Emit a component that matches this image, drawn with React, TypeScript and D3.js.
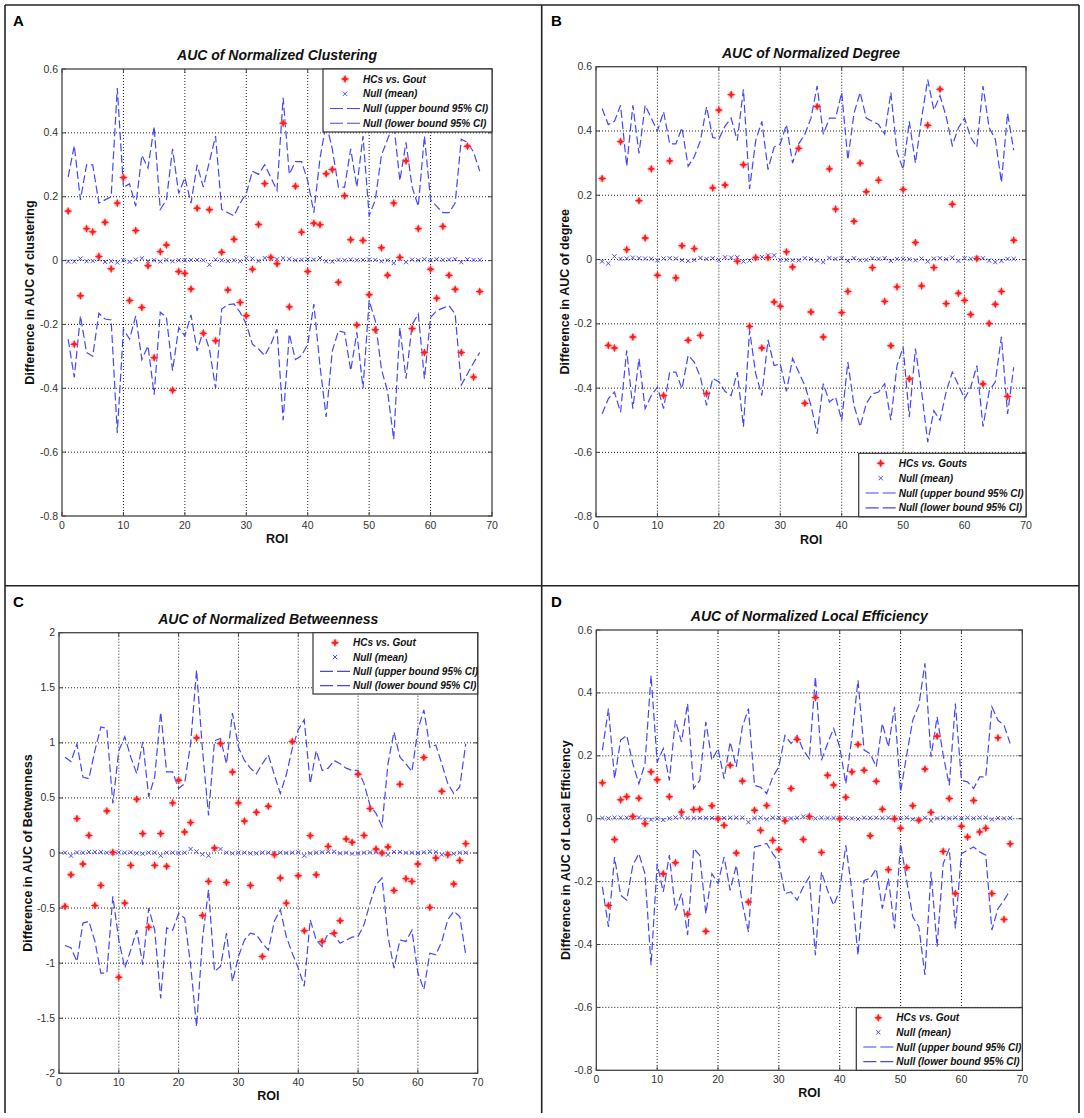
import { useEffect, useRef } from "react";
import * as d3 from "d3";

const W = 1084,
  H = 1118;

const xTicks = [0, 10, 20, 30, 40, 50, 60, 70];
const smallYTicks = [-0.8, -0.6, -0.4, -0.2, 0, 0.2, 0.4, 0.6];
const betwYTicks = [-2, -1.5, -1, -0.5, 0, 0.5, 1, 1.5, 2];

// A: clustering
const clustHC = [0.155, -0.262, -0.11, 0.1, 0.09, 0.013, 0.12, -0.026, 0.18, 0.26, -0.125, 0.094, -0.147, -0.016, -0.304, 0.028, 0.049, -0.406, -0.034, -0.04, -0.089, 0.164, -0.228, 0.159, -0.251, 0.026, -0.092, 0.067, -0.131, -0.173, -0.027, 0.113, 0.241, 0.01, -0.01, 0.43, -0.145, 0.233, 0.089, -0.034, 0.117, 0.112, 0.272, 0.285, -0.068, 0.203, 0.065, -0.202, 0.063, -0.107, -0.217, 0.04, -0.046, 0.18, 0.01, 0.312, -0.213, 0.1, -0.288, -0.027, -0.118, 0.107, -0.046, -0.09, -0.288, 0.358, -0.365, -0.097];
const clustMean = [-0.003, -0.003, 0.006, -0.002, -0.001, 0.004, -0.004, -0.002, -0.006, 0.001, -0.004, 0.003, 0.007, -0.002, 0.001, -0.003, 0.002, -0.002, 0.001, 0.001, 0.002, 0.002, 0.001, -0.013, 0.003, 0.001, -0.001, 0.001, -0.002, 0.007, 0.006, -0.001, 0.008, 0.009, 0.004, 0.007, 0.005, 0.001, 0.002, 0.004, 0.003, 0.008, -0.002, -0.003, 0.002, 0.001, 0.003, 0.001, 0.002, 0.003, 0.002, -0.002, 0.001, -0.008, 0.006, -0.005, 0.003, 0.001, 0.004, 0.001, 0.004, 0.002, 0.003, 0.004, -0.005, 0.004, 0.002, 0.002];
const clustUpper = [0.262, 0.36, 0.19, 0.3, 0.3, 0.18, 0.19, 0.2, 0.54, 0.23, 0.24, 0.17, 0.33, 0.29, 0.42, 0.16, 0.19, 0.35, 0.21, 0.26, 0.18, 0.3, 0.23, 0.31, 0.39, 0.16, 0.15, 0.14, 0.18, 0.21, 0.28, 0.27, 0.3, 0.26, 0.22, 0.51, 0.27, 0.31, 0.31, 0.25, 0.15, 0.32, 0.43, 0.35, 0.23, 0.23, 0.35, 0.23, 0.39, 0.14, 0.19, 0.33, 0.38, 0.43, 0.25, 0.37, 0.23, 0.17, 0.39, 0.19, 0.17, 0.15, 0.15, 0.18, 0.38, 0.37, 0.34, 0.28];
const clustLower = [-0.246, -0.366, -0.173, -0.288, -0.3, -0.165, -0.183, -0.186, -0.54, -0.215, -0.246, -0.173, -0.31, -0.267, -0.42, -0.162, -0.178, -0.345, -0.21, -0.236, -0.17, -0.283, -0.22, -0.277, -0.4, -0.152, -0.138, -0.136, -0.162, -0.199, -0.262, -0.277, -0.298, -0.262, -0.215, -0.5, -0.23, -0.31, -0.298, -0.262, -0.136, -0.33, -0.49, -0.283, -0.22, -0.225, -0.345, -0.225, -0.4, -0.126, -0.188, -0.34, -0.41, -0.56, -0.21, -0.37, -0.2, -0.167, -0.37, -0.178, -0.157, -0.149, -0.141, -0.167, -0.39, -0.355, -0.32, -0.288];

// B: degree
const degHC = [0.252, -0.267, -0.275, 0.367, 0.031, -0.241, 0.183, 0.067, 0.282, -0.049, -0.423, 0.307, -0.057, 0.043, -0.251, 0.034, -0.236, -0.417, 0.223, 0.465, 0.232, 0.513, -0.005, 0.295, -0.208, 0.006, -0.275, 0.006, -0.132, -0.145, 0.024, -0.023, 0.346, -0.447, -0.163, 0.476, -0.241, 0.282, 0.157, -0.165, -0.099, 0.119, 0.3, 0.211, -0.025, 0.247, -0.13, -0.268, -0.085, 0.218, -0.371, 0.053, -0.082, 0.418, -0.025, 0.53, -0.137, 0.172, -0.105, -0.127, -0.171, 0.003, -0.387, -0.199, -0.139, -0.099, -0.426, 0.06];
const degMean = [-0.006, -0.012, 0.01, 0.002, 0.003, 0.006, 0.004, 0.003, 0.002, -0.002, 0.003, 0.004, 0.003, -0.002, -0.004, -0.001, 0.005, 0.002, 0.004, -0.001, 0.007, 0.006, 0.007, -0.006, -0.003, 0.004, 0.008, 0.013, 0.013, -0.001, -0.001, -0.002, -0.002, 0.004, 0.002, -0.003, -0.008, 0.005, 0.002, 0.004, -0.004, 0.004, -0.002, -0.001, 0.004, 0.002, 0.004, -0.004, 0.002, 0.002, 0.001, -0.002, 0.003, -0.006, 0.003, 0.004, 0.001, 0.006, -0.004, 0.004, 0.002, 0.004, 0.004, -0.003, -0.008, -0.004, 0.002, 0.002];
const degUpper = [0.47, 0.42, 0.43, 0.48, 0.29, 0.48, 0.33, 0.48, 0.44, 0.4, 0.46, 0.36, 0.36, 0.41, 0.29, 0.32, 0.37, 0.475, 0.38, 0.375, 0.415, 0.44, 0.37, 0.53, 0.22, 0.37, 0.43, 0.28, 0.35, 0.36, 0.42, 0.3, 0.36, 0.39, 0.44, 0.54, 0.39, 0.44, 0.44, 0.52, 0.31, 0.455, 0.52, 0.44, 0.43, 0.42, 0.39, 0.52, 0.335, 0.28, 0.43, 0.3, 0.44, 0.56, 0.465, 0.51, 0.445, 0.355, 0.41, 0.44, 0.38, 0.35, 0.54, 0.41, 0.375, 0.24, 0.455, 0.34];
const degLower = [-0.48, -0.433, -0.412, -0.475, -0.282, -0.464, -0.308, -0.464, -0.423, -0.397, -0.464, -0.35, -0.35, -0.402, -0.298, -0.319, -0.366, -0.454, -0.37, -0.38, -0.41, -0.423, -0.35, -0.52, -0.22, -0.355, -0.423, -0.25, -0.33, -0.325, -0.41, -0.308, -0.35, -0.392, -0.454, -0.542, -0.386, -0.443, -0.428, -0.5, -0.319, -0.454, -0.52, -0.448, -0.418, -0.412, -0.386, -0.5, -0.33, -0.272, -0.49, -0.277, -0.41, -0.568, -0.47, -0.5, -0.412, -0.35, -0.39, -0.433, -0.397, -0.33, -0.52, -0.41, -0.38, -0.24, -0.48, -0.335];

// C: betweenness
const betwHC = [-0.485, -0.197, 0.312, -0.1, 0.16, -0.476, -0.294, 0.382, 0.006, -1.127, -0.455, -0.112, 0.488, 0.176, -0.673, -0.112, 0.176, -0.121, 0.455, 0.66, 0.19, 0.276, 1.045, -0.567, -0.258, 0.045, 0.994, -0.267, 0.736, 0.455, 0.29, -0.294, 0.37, -0.94, 0.424, -0.015, -0.227, -0.455, 1.012, -0.206, -0.706, 0.158, -0.197, -0.803, 0.06, -0.727, -0.615, 0.127, 0.097, 0.715, 0.16, 0.403, 0.036, 0.0, 0.055, -0.34, 0.624, -0.233, -0.258, -0.1, 0.867, -0.494, -0.045, 0.56, -0.015, -0.282, -0.067, 0.085];
const betwMean = [0.003, -0.024, 0.005, 0.003, 0.009, 0.009, 0.009, 0.003, 0.0, 0.006, 0.003, 0.006, -0.003, -0.006, 0.003, 0.003, -0.024, 0.003, 0.003, 0.0, 0.003, 0.036, 0.012, -0.012, -0.025, 0.036, 0.036, 0.003, -0.003, 0.003, 0.003, -0.003, -0.003, 0.003, 0.003, 0.0, 0.003, 0.0, 0.003, 0.006, -0.024, -0.003, 0.003, 0.006, 0.012, 0.012, -0.003, 0.003, -0.006, -0.003, 0.003, 0.006, 0.006, 0.003, -0.015, 0.009, 0.009, 0.003, 0.003, 0.0, 0.006, 0.012, 0.009, -0.015, -0.006, -0.006, 0.003, 0.003];
const betwUpper = [0.87, 0.83, 0.99, 0.69, 0.675, 0.93, 1.145, 1.13, 0.45, 0.93, 1.055, 0.87, 0.72, 1.01, 0.51, 0.69, 1.28, 0.736, 0.736, 0.585, 0.63, 0.99, 1.66, 0.93, 0.34, 1.02, 1.04, 0.81, 1.27, 0.96, 0.84, 0.77, 0.72, 0.81, 0.89, 0.71, 0.54, 0.71, 0.95, 1.12, 1.21, 0.63, 0.93, 0.75, 0.77, 0.84, 0.81, 0.77, 0.75, 0.75, 0.63, 0.43, 0.36, 0.24, 0.81, 1.1, 0.87, 0.81, 0.74, 1.12, 1.3, 0.96, 0.98, 0.81, 0.63, 0.54, 0.6, 0.99];
const betwLower = [-0.84, -0.86, -0.985, -0.636, -0.62, -0.8, -1.09, -1.09, -0.394, -0.79, -1.045, -0.88, -0.7, -1.015, -0.5, -0.7, -1.32, -0.68, -0.7, -0.55, -0.59, -1.015, -1.576, -0.773, -0.333, -1.076, -1.03, -0.727, -1.167, -0.94, -0.79, -0.727, -0.742, -0.82, -0.88, -0.62, -0.515, -0.758, -0.91, -1.045, -1.21, -0.606, -0.79, -0.85, -0.727, -0.742, -0.82, -0.79, -0.764, -0.758, -0.65, -0.455, -0.288, -0.227, -0.758, -1.045, -0.79, -0.803, -0.7, -1.09, -1.24, -0.91, -0.924, -0.803, -0.606, -0.53, -0.576, -0.924];

// D: local efficiency
const effHC = [0.114, -0.276, -0.066, 0.06, 0.07, 0.007, 0.065, -0.016, 0.149, 0.124, -0.175, 0.07, -0.14, 0.021, -0.304, 0.029, 0.03, -0.358, 0.041, 0.0, -0.021, 0.17, -0.109, 0.12, -0.265, 0.027, -0.037, 0.042, -0.069, -0.098, -0.007, 0.096, 0.252, -0.066, 0.007, 0.385, -0.107, 0.138, 0.107, 0.0, 0.068, 0.149, 0.236, 0.154, -0.054, 0.119, 0.03, -0.162, 0.0, -0.03, -0.155, 0.041, -0.005, 0.158, 0.02, 0.262, -0.104, 0.064, -0.238, -0.024, -0.058, 0.058, -0.042, -0.03, -0.238, 0.257, -0.32, -0.08];
const effMean = [0.002, 0.001, 0.003, 0.003, 0.003, 0.003, 0.004, -0.002, -0.003, 0.0, -0.004, 0.001, 0.004, 0.008, 0.002, 0.002, 0.002, 0.002, 0.002, 0.001, 0.002, 0.003, 0.003, 0.003, -0.011, 0.002, 0.003, -0.002, 0.003, 0.003, 0.001, 0.001, 0.003, 0.007, 0.003, 0.001, 0.003, 0.002, 0.002, 0.001, 0.003, 0.001, -0.001, 0.003, 0.002, 0.003, 0.002, 0.003, 0.003, 0.001, 0.003, -0.002, -0.003, 0.003, -0.006, 0.001, 0.003, 0.001, 0.003, 0.001, 0.003, 0.001, 0.003, 0.003, -0.002, 0.002, 0.001, 0.002];
const effUpper = [0.218, 0.35, 0.127, 0.25, 0.265, 0.175, 0.111, 0.175, 0.456, 0.18, 0.223, 0.122, 0.313, 0.244, 0.366, 0.096, 0.122, 0.308, 0.186, 0.223, 0.127, 0.244, 0.165, 0.292, 0.35, 0.106, 0.1, 0.08, 0.133, 0.165, 0.265, 0.239, 0.265, 0.218, 0.191, 0.451, 0.186, 0.239, 0.287, 0.228, 0.111, 0.26, 0.44, 0.218, 0.207, 0.165, 0.303, 0.228, 0.356, 0.085, 0.202, 0.313, 0.361, 0.494, 0.196, 0.324, 0.202, 0.106, 0.366, 0.122, 0.117, 0.096, 0.133, 0.133, 0.356, 0.313, 0.297, 0.239];
const effLower = [-0.217, -0.344, -0.122, -0.243, -0.259, -0.148, -0.111, -0.175, -0.466, -0.143, -0.233, -0.116, -0.291, -0.238, -0.37, -0.095, -0.116, -0.302, -0.175, -0.206, -0.122, -0.228, -0.148, -0.27, -0.36, -0.09, -0.085, -0.079, -0.111, -0.138, -0.238, -0.233, -0.259, -0.217, -0.185, -0.434, -0.169, -0.228, -0.275, -0.228, -0.085, -0.228, -0.434, -0.196, -0.19, -0.159, -0.286, -0.19, -0.349, -0.079, -0.196, -0.312, -0.344, -0.497, -0.169, -0.407, -0.143, -0.095, -0.349, -0.111, -0.1, -0.09, -0.106, -0.116, -0.354, -0.286, -0.259, -0.228];

const FONT = "'Liberation Sans', Arial, sans-serif";
const BLUE = "#4545ff";
const RED = "#ff1c1c";

const panels = [
  {
    letter: "A", lx: 13, ly: 26,
    title: "AUC of Normalized Clustering",
    ylabel: "Difference in AUC of clustering",
    left: 62, right: 492, top: 69, bottom: 516, ylx: 33.5,
    yDomain: [-0.8, 0.6], yTicks: smallYTicks,
    hcLabel: "HCs vs. Gout", legX: 323, legY: 69, legH: 63,
    hc: clustHC, mean: clustMean, upper: clustUpper, lower: clustLower,
  },
  {
    letter: "B", lx: 551, ly: 26,
    title: "AUC of Normalized Degree",
    ylabel: "Difference in AUC of degree",
    left: 596, right: 1026, top: 66.7, bottom: 516.7, ylx: 568.5,
    yDomain: [-0.8, 0.6], yTicks: smallYTicks,
    hcLabel: "HCs vs. Gouts", legX: 858.7, legY: 453.3, legH: 63.4,
    hc: degHC, mean: degMean, upper: degUpper, lower: degLower,
  },
  {
    letter: "C", lx: 13, ly: 607,
    title: "AUC of Normalized Betweenness",
    ylabel: "Difference in AUC of Betwenness",
    left: 59, right: 477.7, top: 632.7, bottom: 1073.3, ylx: 31.5,
    yDomain: [-2, 2], yTicks: betwYTicks,
    hcLabel: "HCs vs. Gout", legX: 313, legY: 632.7, legH: 61.3,
    hc: betwHC, mean: betwMean, upper: betwUpper, lower: betwLower,
  },
  {
    letter: "D", lx: 551, ly: 607,
    title: "AUC of Normalized Local Efficiency",
    ylabel: "Difference in AUC of Local Efficiency",
    left: 596.3, right: 1022.3, top: 630, bottom: 1070.3, ylx: 569.5,
    yDomain: [-0.8, 0.6], yTicks: smallYTicks,
    hcLabel: "HCs vs. Gout", legX: 856.3, legY: 1007.7, legH: 62.6,
    hc: effHC, mean: effMean, upper: effUpper, lower: effLower,
  },
];

const starPath = (r: number) => {
  const k = r * 0.28;
  return `M0,${-r}L${k},${-k}L${r},0L${k},${k}L0,${r}L${-k},${k}L${-r},0L${-k},${-k}Z`;
};

function drawStar(g: any, cx: number, cy: number) {
  g.append("circle").attr("cx", cx).attr("cy", cy).attr("r", 3.6)
    .attr("fill", "#ff8c8c").attr("opacity", 0.45);
  g.append("path").attr("d", starPath(4.3))
    .attr("transform", `translate(${cx},${cy})`).attr("fill", RED);
}

function drawCross(g: any, cx: number, cy: number) {
  const s = 2.1;
  g.append("path")
    .attr("d", `M${cx - s},${cy - s}L${cx + s},${cy + s}M${cx - s},${cy + s}L${cx + s},${cy - s}`)
    .attr("stroke", BLUE).attr("stroke-width", 1).attr("fill", "none");
}

function drawPanel(svg: any, p: any) {
  const g = svg.append("g");
  const x = d3.scaleLinear().domain([0, 70]).range([p.left, p.right]);
  const y = d3.scaleLinear().domain(p.yDomain).range([p.bottom, p.top]);

  // grid
  g.selectAll("gx").data(xTicks.slice(1, -1)).enter().append("line")
    .attr("x1", (d: number) => x(d)).attr("x2", (d: number) => x(d))
    .attr("y1", p.top).attr("y2", p.bottom)
    .attr("stroke", "#222").attr("stroke-width", 1).attr("stroke-dasharray", "1,2");
  g.selectAll("gy").data(p.yTicks.slice(1, -1)).enter().append("line")
    .attr("x1", p.left).attr("x2", p.right)
    .attr("y1", (d: number) => y(d)).attr("y2", (d: number) => y(d))
    .attr("stroke", "#222").attr("stroke-width", 1).attr("stroke-dasharray", "1,2");

  // null bounds
  const line = d3.line<number>().x((d, i) => x(i + 1)).y((d) => y(d));
  [p.upper, p.lower].forEach((arr: number[]) => {
    g.append("path").attr("d", line(arr)).attr("fill", "none")
      .attr("stroke", BLUE).attr("stroke-width", 1.2).attr("stroke-dasharray", "8,3.5");
  });

  // null mean
  p.mean.forEach((d: number, i: number) => drawCross(g, x(i + 1), y(d)));

  // HCs vs gout
  p.hc.forEach((d: number, i: number) => drawStar(g, x(i + 1), y(d)));

  // box + ticks
  g.append("rect").attr("x", p.left).attr("y", p.top)
    .attr("width", p.right - p.left).attr("height", p.bottom - p.top)
    .attr("fill", "none").attr("stroke", "#444").attr("stroke-width", 1.3);
  xTicks.forEach((t) => {
    g.append("line").attr("x1", x(t)).attr("x2", x(t)).attr("y1", p.bottom).attr("y2", p.bottom - 4)
      .attr("stroke", "#444");
    g.append("line").attr("x1", x(t)).attr("x2", x(t)).attr("y1", p.top).attr("y2", p.top + 4)
      .attr("stroke", "#444");
  });
  p.yTicks.forEach((t: number) => {
    g.append("line").attr("x1", p.left).attr("x2", p.left + 4).attr("y1", y(t)).attr("y2", y(t))
      .attr("stroke", "#444");
    g.append("line").attr("x1", p.right).attr("x2", p.right - 4).attr("y1", y(t)).attr("y2", y(t))
      .attr("stroke", "#444");
  });

  // tick labels
  g.selectAll("xl").data(xTicks).enter().append("text")
    .attr("x", (d: number) => x(d)).attr("y", p.bottom + 12.5)
    .attr("text-anchor", "middle").attr("font-size", 10.5).attr("font-family", FONT)
    .attr("fill", "#333").text((d: number) => d);
  g.selectAll("yl").data(p.yTicks).enter().append("text")
    .attr("x", p.left - 4).attr("y", (d: number) => y(d) + 3.5)
    .attr("text-anchor", "end").attr("font-size", 10.5).attr("font-family", FONT)
    .attr("fill", "#333").text((d: number) => String(d));

  // titles and labels
  const cx = (p.left + p.right) / 2;
  g.append("text").attr("x", cx).attr("y", p.top - 9)
    .attr("text-anchor", "middle").attr("font-size", 14).attr("font-weight", "bold")
    .attr("font-style", "italic").attr("font-family", FONT).attr("fill", "#111").text(p.title);
  g.append("text").attr("x", cx).attr("y", p.bottom + 27)
    .attr("text-anchor", "middle").attr("font-size", 12.5).attr("font-weight", "bold")
    .attr("font-family", FONT).attr("fill", "#111").text("ROI");
  g.append("text")
    .attr("transform", `translate(${p.ylx},${(p.top + p.bottom) / 2}) rotate(-90)`)
    .attr("text-anchor", "middle").attr("font-size", 12.5).attr("font-weight", "bold")
    .attr("font-family", FONT).attr("fill", "#111").text(p.ylabel);
  g.append("text").attr("x", p.lx).attr("y", p.ly)
    .attr("font-size", 15).attr("font-weight", "bold").attr("font-family", FONT)
    .attr("fill", "#000").text(p.letter);

  // legend
  const lg = g.append("g");
  lg.append("rect").attr("x", p.legX).attr("y", p.legY)
    .attr("width", p.right - p.legX).attr("height", p.legH)
    .attr("fill", "#fff").attr("stroke", "#333").attr("stroke-width", 1.2);
  const labels = [p.hcLabel, "Null (mean)", "Null (upper bound 95% CI)", "Null (lower bound 95% CI)"];
  const step = (p.legH - 4) / 4;
  labels.forEach((lab: string, k: number) => {
    const cy = p.legY + 10 + step * k;
    if (k === 0) drawStar(lg, p.legX + 22, cy);
    else if (k === 1) drawCross(lg, p.legX + 22, cy);
    else
      lg.append("line").attr("x1", p.legX + 7).attr("x2", p.legX + 37).attr("y1", cy).attr("y2", cy)
        .attr("stroke", BLUE).attr("stroke-width", 1.2).attr("stroke-dasharray", "13,4");
    lg.append("text").attr("x", p.legX + 40).attr("y", cy + 3.6)
      .attr("font-size", 10).attr("font-weight", "bold").attr("font-style", "italic")
      .attr("font-family", FONT).attr("fill", "#111").text(lab);
  });
}

function App() {
  const svgRef = useRef(null);

  const buildSVG = () => {
    const svg = d3.select(svgRef.current);
    svg.selectAll("*").remove();
    svg.append("rect").attr("width", W).attr("height", H).attr("fill", "#fff");

    // panel frame
    const frame = [
      [5, 5, 1079, 5],
      [5, 585.7, 1079, 585.7],
      [5, 5, 5, 1113],
      [541.7, 5, 541.7, 1113],
      [1079, 5, 1079, 1113],
    ];
    svg.selectAll("frame").data(frame).enter().append("line")
      .attr("x1", (d) => d[0]).attr("y1", (d) => d[1])
      .attr("x2", (d) => d[2]).attr("y2", (d) => d[3])
      .attr("stroke", "#222").attr("stroke-width", 1.6);

    panels.forEach((p) => drawPanel(svg, p));
  };

  useEffect(buildSVG, []);

  return (
    <svg
      ref={svgRef}
      width={W}
      height={H}
      style={{ position: "absolute", left: 0, top: 0, display: "block" }}
    ></svg>
  );
}

export default App;
